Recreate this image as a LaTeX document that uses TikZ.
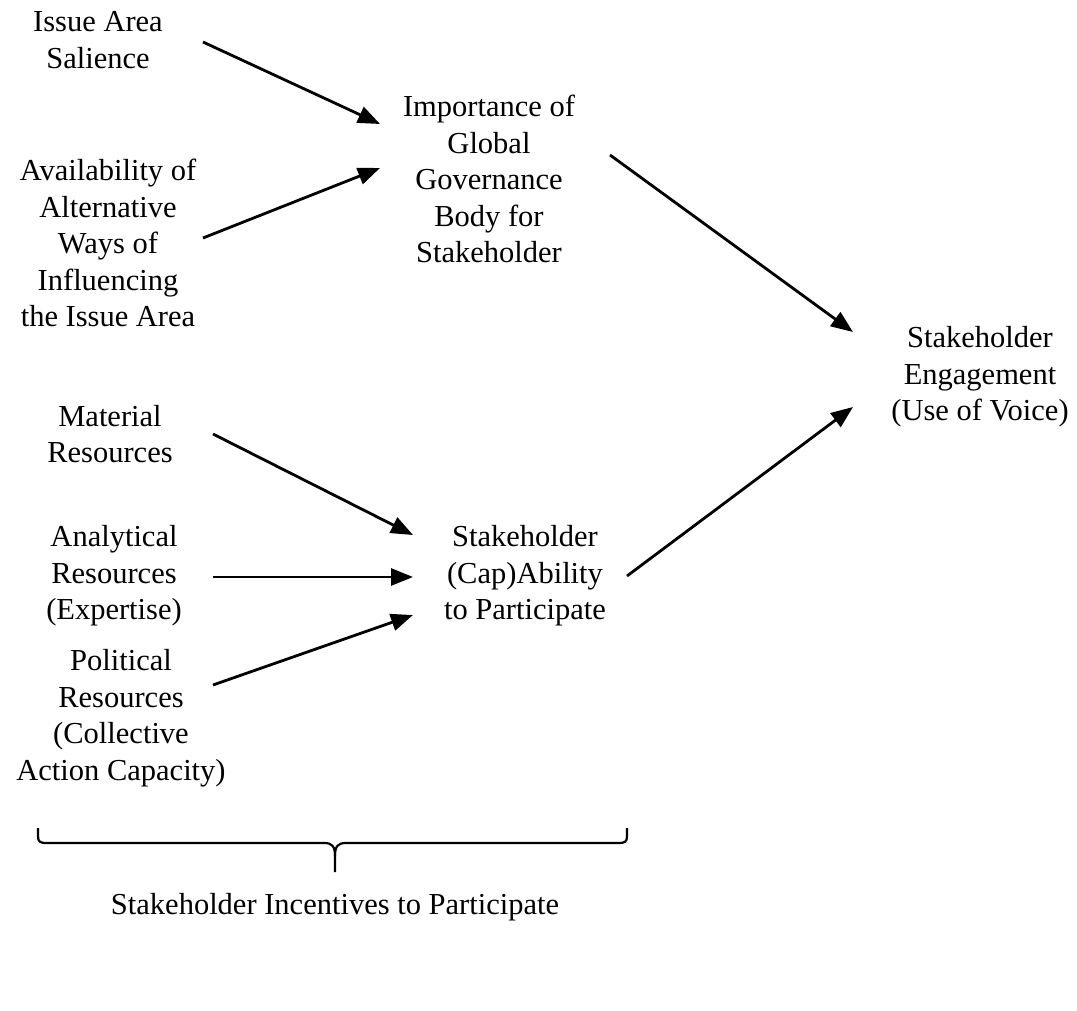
\documentclass[tikz,border=0pt]{standalone}
\usepackage{fontspec}
\setmainfont{Liberation Serif}
\usetikzlibrary{arrows.meta}
\begin{document}
\begin{tikzpicture}[x=1pt,y=-1pt,
  lbl/.style={align=center,inner sep=0pt,font=\fontsize{30.5}{36.5}\selectfont},
  arr/.style={line width=2.8pt,-{Triangle[length=22pt,width=17pt]}},
  brace/.style={line width=2.2pt}]
\useasboundingbox (0,0) rectangle (1077,1011);
\node[lbl] (issue) at (98,40) {Issue Area\\Salience};
\node[lbl] (avail) at (108,243) {Availability of\\Alternative\\Ways of\\Influencing\\the Issue Area};
\node[lbl] (imp) at (489,179) {Importance of\\Global\\Governance\\Body for\\Stakeholder};
\node[lbl] (eng) at (980,377) {Stakeholder\\Engagement\\(Use of Voice)};
\node[lbl] (mat) at (110,434) {Material\\Resources};
\node[lbl] (ana) at (114,576) {Analytical\\Resources\\(Expertise)};
\node[lbl] (cap) at (525,576) {Stakeholder\\(Cap)Ability\\to Participate};
\node[lbl] (pol) at (121,718) {Political\\Resources\\(Collective\\Action Capacity)};
\node[lbl] (inc) at (335,907) {Stakeholder Incentives to Participate};
% connectors
\draw[arr] ([shift={(105,2)}]issue.center) -- ([shift={(-109,-55)}]imp.center);
\draw[arr] ([shift={(95,-5)}]avail.center) -- ([shift={(-109,-11)}]imp.center);
\draw[arr] ([shift={(121,-24)}]imp.center) -- ([shift={(-127,-45)}]eng.center);
\draw[arr] ([shift={(103,0)}]mat.center) -- ([shift={(-112,-41)}]cap.center);
\draw[arr] ([shift={(99,1)}]ana.center) -- ([shift={(-112,1)}]cap.center);
\draw[arr] ([shift={(92,-33)}]pol.center) -- ([shift={(-112,39)}]cap.center);
\draw[arr] ([shift={(102,0)}]cap.center) -- ([shift={(-127,30)}]eng.center);
% brace
\coordinate (bl) at (38,828);
\coordinate (br) at (627,828);
\coordinate (bt) at (335,872);
\draw[brace] (bl) -- (38,836) .. controls (38,842) and (40,843) .. (47,843)
  -- (324,843) .. controls (332,843) and (335,846) .. (335,856) -- (bt);
\draw[brace] (br) -- (627,836) .. controls (627,842) and (625,843) .. (618,843)
  -- (346,843) .. controls (338,843) and (335,846) .. (335,856);
\end{tikzpicture}
\end{document}
